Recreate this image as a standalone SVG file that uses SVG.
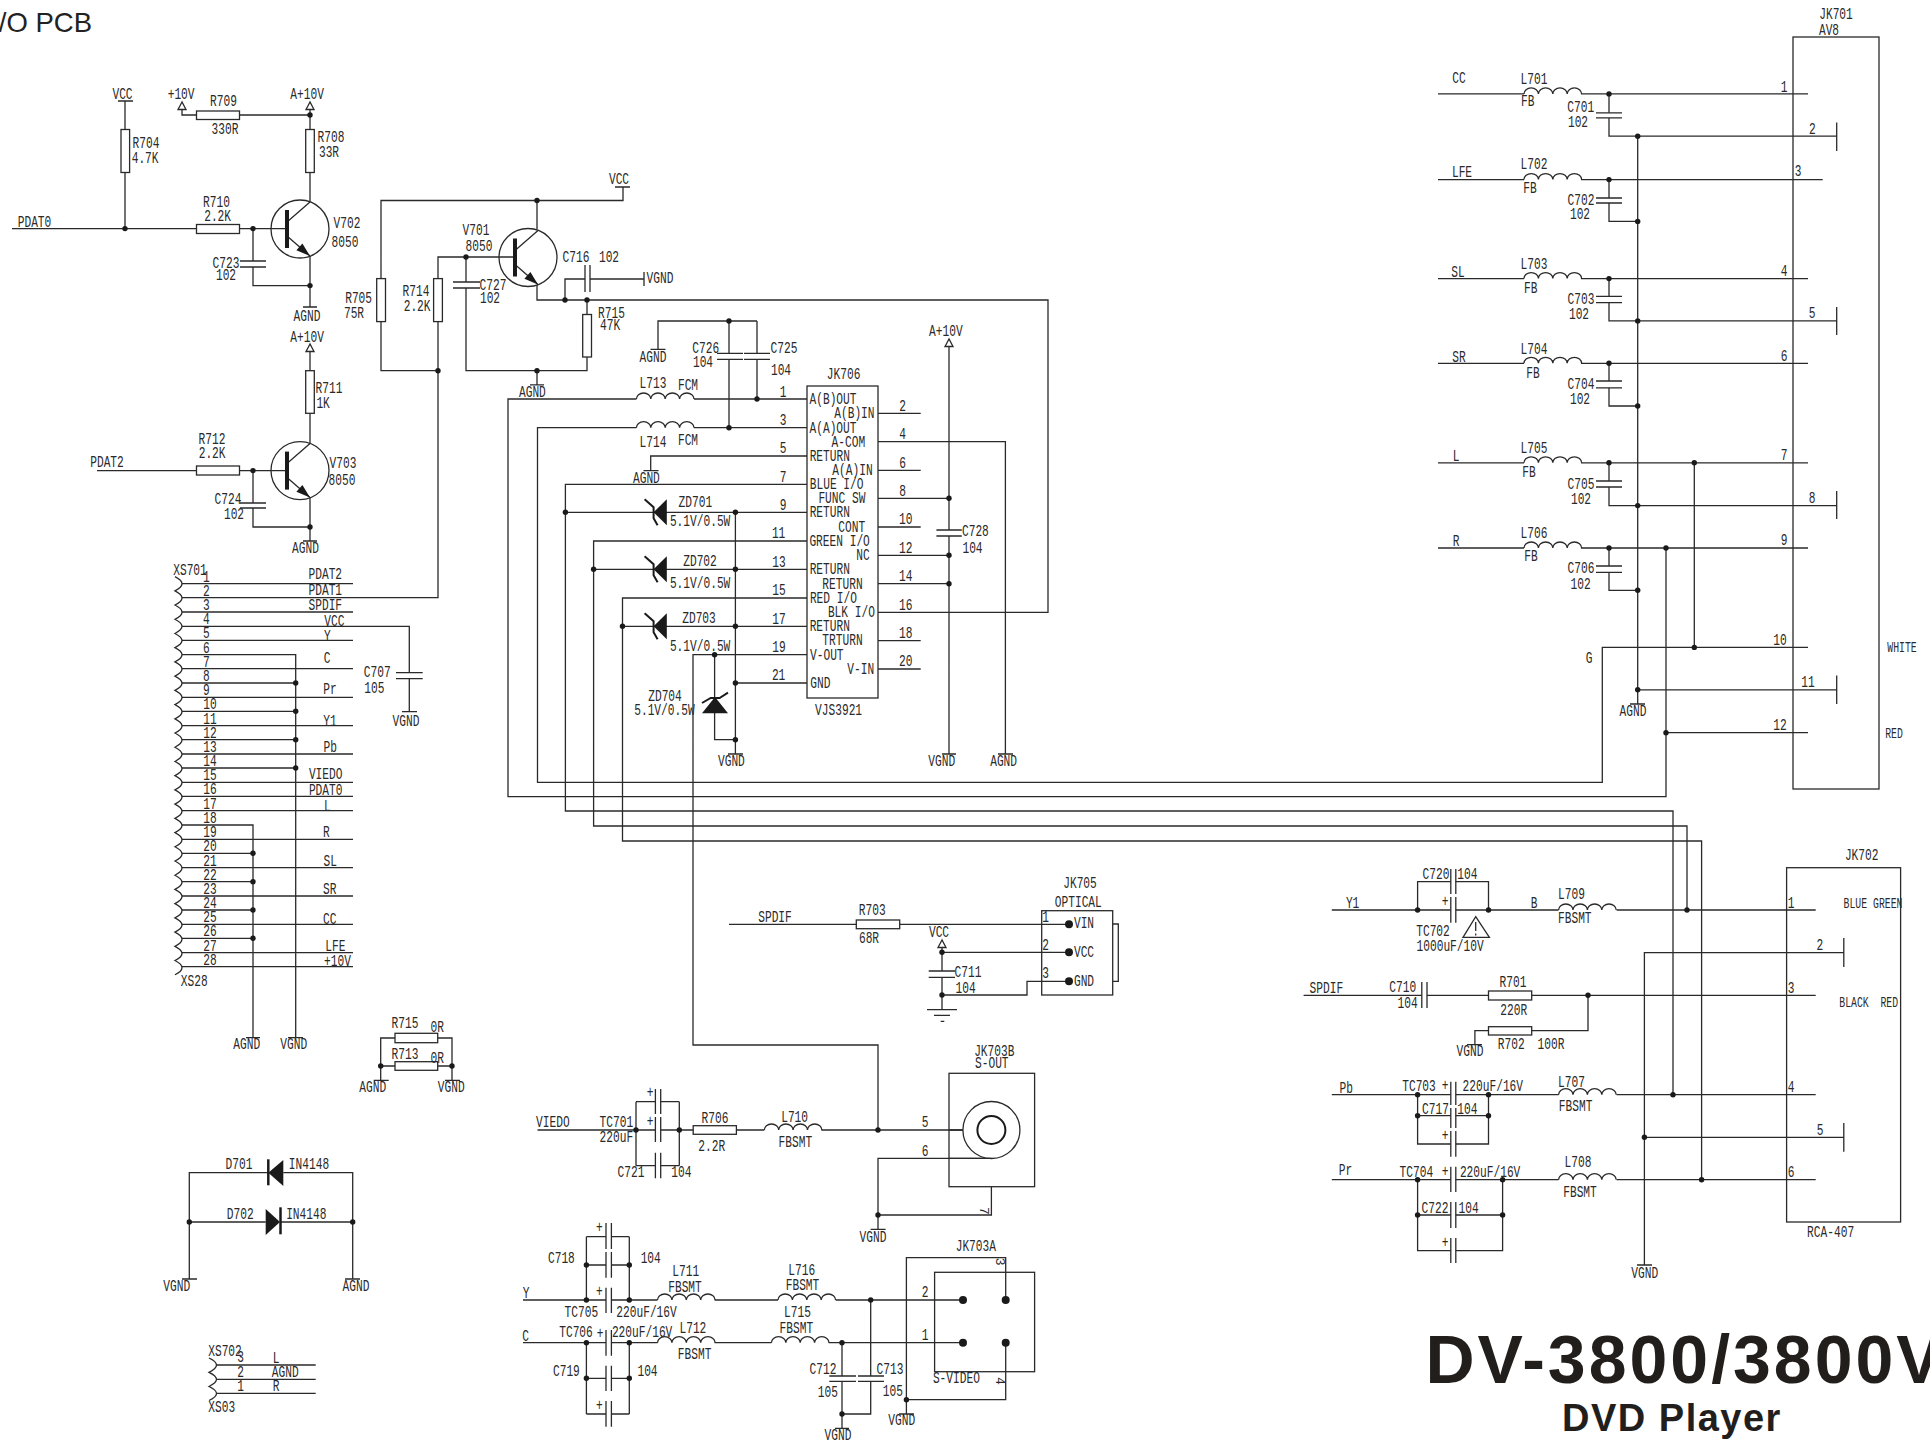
<svg xmlns="http://www.w3.org/2000/svg" xmlns:xlink="http://www.w3.org/1999/xlink" width="1930" height="1441" viewBox="0 0 1930 1441">
<style>
.w{fill:none;stroke:#2a2a2a;stroke-width:1.3}
.n{fill:#fff;stroke:#2a2a2a;stroke-width:1.3}
.b{fill:none;stroke:#2a2a2a;stroke-width:1.3}
.f{fill:#1a1a1a;stroke:none}
.t{font:16px "Liberation Mono",monospace;fill:#2a2a2a;text-anchor:middle;transform-box:fill-box;transform-origin:center;transform:scaleX(.7)}
.s{font-size:14px}
.v{font:13px "Liberation Mono",monospace;fill:#2a2a2a;text-anchor:middle}
.title{font:bold 68px "Liberation Sans",sans-serif;fill:#221e1c;letter-spacing:3px}
.sub{font:bold 38px "Liberation Sans",sans-serif;fill:#221e1c;letter-spacing:1.5px}
.pcb{font:27.5px "Liberation Sans",sans-serif;fill:#222;text-anchor:end}
</style>
<defs>
<circle id="d" r="2.7" fill="#1a1a1a"/>
<circle id="D" r="4" fill="#1a1a1a"/>
<path id="coil" class="w" d="M0 0a7.2 6 0 0 1 14.4 0a7.2 6 0 0 1 14.4 0a7.2 6 0 0 1 14.4 0a7.2 6 0 0 1 14.4 0"/>
<path id="tri" class="n" d="M0 0l-4 7.5h8z"/>
<g id="q">
<circle class="b" cx="13" r="29"/>
<path class="b" d="M0 -7L23 -27M0 7L23 27"/>
<path d="M0 -19V19" stroke="#1a1a1a" stroke-width="4"/>
<path class="f" d="M23 27L15.4 14.4L9.4 21.2z"/>
</g>
<g id="zd">
<path class="f" d="M13.2 -13V13L0 0z"/>
<path fill="none" stroke="#1a1a1a" stroke-width="2" d="M-9 -13L0 -5V6L4 13"/>
</g>
</defs>
<rect width="1930" height="1441" fill="#fff"/>

<g id="connectors">
<path class="w" d="M12 228.6H196.5M239.5 228.6H287M125 101V129.5M125 172.4V228.6M182 109V115H196.5M239.5 115H310M310 109V129.5M310 172.4V202M253 228.6V261M253 267V285.6H310M310 256V307M118 101h15M303 307h14"/>
<path class="w" d="M310 351.5V370.7M310 413.3V444M97 470.6H196.5M239.5 470.6H287M253 470.6V503M253 508V527H310M310 497.6V541M303 541h14"/>
<path class="w" d="M381 278.6V200.5H623V187M615 187h15M537 200.5V229.4M381 321.5V370.7H438M515 257H438V278.6M438 321.5V597.7H182M466 257V282M466 288V370.7H587V357M587 314.5V300M537 285V300H1048V612.3H878M565 300V279H585M590 279H644M644 272V286M537 370.7V384.8M530 384.8h14"/>
<path class="w" d="M757 321V353.3M757 359.3V399M658 349.3V321H757M729 321V353.3M729 359.3V427.7M650.5 349.3h15M694 399H807M636.4 399H508V796.7H1666V548M694 427.7H807M636.4 427.7H537.5V782.3H1602.3V647.4H1808"/>
<path class="w" d="M807 456H650.7V470.7M643.5 470.7h15M807 484.3H565.4V811H1673V1094.7M807 512.3H565.4M807 541H593.6V826H1687V910M807 569.3H593.6M807 598H622.5V841H1701.6V1179.7M807 626.3H622.5M807 654.7H693V1045H878V1130M807 683H735.4M735.4 512.3V754M728 754h15M714.6 654.7V739.7H735.4"/>
<path class="w" d="M878 413.3H920.7M878 441.7H1005.4V754M998 754h15M878 470.3H920.7M878 498.3H949M878 527H920.7M878 555.3H949M878 583.7H949M878 640.7H920.7M878 669H920.7M949 346.7V530M949 536V754M942 754h14"/>
<path class="w" d="M182 583.7H353M182 612H353M182 626.3H409.3V672.7M409.3 678.7V711.7M402 711.7h15M182 640.3H353M182 654.7H295.7V1037.7M288 1037.7h15M182 668.7H353M182 683H295.7M182 697.3H353M182 711.3H295.7M182 725.7H353M182 739.7H295.7M182 754H353M182 768H295.7M182 782.3H353M182 796.3H353M182 810.7H353M182 825H253V1037.7M246 1037.7h14M182 839.3H353M182 853.3H253M182 867.7H353M182 881.7H253M182 896H353M182 910H253M182 924.3H353M182 938.3H253M182 952.7H353M182 966.7H353"/>
<path class="w" d="M1438 93.9H1524M1581 93.9H1808M1609 93.9V112.8M1609 117.9V136.2H1836.7M1836.7 122.4V151M1637.7 136.2V704M1630 704h15"/>
<path class="w" d="M1438 179.6H1524M1581 179.6H1822.7M1609 179.6V198M1609 203V221.4H1637.7"/>
<path class="w" d="M1438 278.6H1524M1581 278.6H1808M1609 278.6V296.4M1609 302.6V320.9H1836.7M1836.7 307V335"/>
<path class="w" d="M1438 363.3H1524M1581 363.3H1808M1609 363.3V381M1609 387.8V406H1637.7"/>
<path class="w" d="M1438 462.8H1524M1581 462.8H1808M1609 462.8V481M1609 487V505.6H1836.7M1836.7 491V519M1694.3 462.8V647.4"/>
<path class="w" d="M1438 548H1524M1581 548H1808M1609 548V566M1609 572.4V590.3H1637.7M1637.7 689.8H1836.7M1836.7 675.5V704M1666 732.7H1808"/>
<path class="w" d="M1331.8 910H1450.8M1455.8 910H1558.6M1616.6 910H1815.7M1417.6 910V881.7H1450.8M1455.8 881.7H1488.5V910M1843.8 952.7H1644.4V1265M1637 1265h15M1644.4 1137.3H1843.8M1843.8 938V967M1843.8 1123V1151.7"/>
<path class="w" d="M1303.6 995.3H1421.8M1427 995.3H1488.5M1531.7 995.3H1815.7M1588 995.3V1030.7H1531.7M1488.5 1030.7H1474.9V1044.7M1467 1044.7h15"/>
<path class="w" d="M1331.8 1094.7H1450.8M1455.8 1094.7H1558.6M1616.6 1094.7H1815.7M1417.6 1094.7V1144H1450.8M1455.8 1144H1488.5V1094.7M1417.6 1115.7H1450.8M1455.8 1115.7H1488.5"/>
<path class="w" d="M1331.8 1179.7H1450.8M1455.8 1179.7H1558.6M1616.6 1179.7H1815.7M1417.6 1179.7V1250.7H1450.8M1455.8 1250.7H1502.6V1179.7M1417.6 1215H1450.8M1455.8 1215H1502.6"/>
<path class="w" d="M729 924.3H856.3M899.7 924.3H1069M942 947.3V971M942 977.3V1009.7M942 952.3H1069M942 995H1027V981.3H1069"/>
<path class="w" d="M537.5 1130H655.4M660.7 1130H693.2M736.4 1130H764.3M821.4 1130H963M636 1101.7H655.4M660.7 1101.7H679.3M636 1165.7H655.4M660.7 1165.7H679.3M636 1101.7V1165.7M679.3 1101.7V1165.7M991.4 1158.3H878V1229.3M870.6 1229.3h15M878 1215H991.4V1186.7"/>
<path class="w" d="M523 1300H606M611.4 1300H657.5M714.6 1300H778M835.7 1300H963M586.4 1236.7H606M611.4 1236.7H629.3M586.4 1265H606M611.4 1265H629.3M586.4 1236.7V1300M629.3 1236.7V1300"/>
<path class="w" d="M523 1342.7H606M611.4 1342.7H657.5M714.6 1342.7H771.4M828.6 1342.7H963M586.4 1378.3H606M611.4 1378.3H629.3M586.4 1414H606M611.4 1414H629.3M586.4 1342.7V1414M629.3 1342.7V1414"/>
<path class="w" d="M842 1342.7V1376M842 1381.3V1428.3M835 1428.3h14M842 1414H870.7V1381.3M870.7 1376V1300M1005.7 1300V1257.7H906.4V1414M899 1414h15M906.4 1399.7H1005.7V1342.7"/>
<path class="w" d="M380.7 1080.3V1038H395M437.7 1038H452V1080.3M380.7 1066H395M437.7 1066H452M373.7 1080.3h15M445 1080.3h15M189.3 1279V1172.7H268M283.3 1172.7H352.7V1279M189.3 1222H265.7M280 1222H352.7M182 1279h15M345 1279h15M216.7 1365H315.7M216.7 1379.3H315.7M216.7 1393.3H315.7"/>
<g>
<use href="#d" x="125" y="228.6"/><use href="#d" x="253" y="228.6"/><use href="#d" x="310" y="115"/><use href="#d" x="310" y="285.6"/><use href="#d" x="253" y="470.6"/><use href="#d" x="310" y="527"/>
<use href="#d" x="537" y="200.5"/><use href="#d" x="466" y="257"/><use href="#d" x="438" y="370.7"/><use href="#d" x="537" y="370.7"/><use href="#d" x="565" y="300"/><use href="#d" x="587" y="300"/>
<use href="#d" x="729" y="321"/><use href="#d" x="757" y="399"/><use href="#d" x="729" y="427.7"/><use href="#d" x="565.4" y="512.3"/><use href="#d" x="593.6" y="569.3"/><use href="#d" x="622.5" y="626.3"/>
<use href="#d" x="735.4" y="512.3"/><use href="#d" x="735.4" y="569.3"/><use href="#d" x="735.4" y="626.3"/><use href="#d" x="735.4" y="683"/><use href="#d" x="735.4" y="739.7"/><use href="#d" x="714.6" y="654.7"/>
<use href="#d" x="949" y="498.3"/><use href="#d" x="949" y="555.3"/><use href="#d" x="949" y="583.7"/>
<use href="#d" x="295.7" y="683"/><use href="#d" x="295.7" y="711.3"/><use href="#d" x="295.7" y="739.7"/><use href="#d" x="295.7" y="768"/><use href="#d" x="253" y="853.3"/><use href="#d" x="253" y="881.7"/><use href="#d" x="253" y="910"/><use href="#d" x="253" y="938.3"/>
<use href="#d" x="1609" y="93.9"/><use href="#d" x="1609" y="179.6"/><use href="#d" x="1609" y="278.6"/><use href="#d" x="1609" y="363.3"/><use href="#d" x="1609" y="462.8"/><use href="#d" x="1609" y="548"/>
<use href="#d" x="1637.7" y="136.2"/><use href="#d" x="1637.7" y="221.4"/><use href="#d" x="1637.7" y="320.9"/><use href="#d" x="1637.7" y="406"/><use href="#d" x="1637.7" y="505.6"/><use href="#d" x="1637.7" y="590.3"/><use href="#d" x="1637.7" y="689.8"/>
<use href="#d" x="1694.3" y="462.8"/><use href="#d" x="1694.3" y="647.4"/><use href="#d" x="1666" y="548"/><use href="#d" x="1666" y="732.7"/>
<use href="#d" x="1417.6" y="910"/><use href="#d" x="1488.5" y="910"/><use href="#d" x="1687" y="910"/><use href="#d" x="1588" y="995.3"/><use href="#d" x="1644.4" y="1137.3"/>
<use href="#d" x="1417.6" y="1094.7"/><use href="#d" x="1488.5" y="1094.7"/><use href="#d" x="1417.6" y="1115.7"/><use href="#d" x="1488.5" y="1115.7"/><use href="#d" x="1673" y="1094.7"/>
<use href="#d" x="1417.6" y="1179.7"/><use href="#d" x="1502.6" y="1179.7"/><use href="#d" x="1417.6" y="1215"/><use href="#d" x="1502.6" y="1215"/><use href="#d" x="1701.6" y="1179.7"/>
<use href="#d" x="942" y="952.3"/><use href="#d" x="942" y="995"/><use href="#D" x="1069" y="924.3"/><use href="#D" x="1069" y="952.3"/><use href="#D" x="1069" y="981.3"/>
<use href="#d" x="636" y="1130"/><use href="#d" x="679.3" y="1130"/><use href="#d" x="878" y="1130"/><use href="#d" x="878" y="1215"/>
<use href="#d" x="586.4" y="1265"/><use href="#d" x="629.3" y="1265"/><use href="#d" x="586.4" y="1300"/><use href="#d" x="629.3" y="1300"/><use href="#d" x="586.4" y="1342.7"/><use href="#d" x="629.3" y="1342.7"/><use href="#d" x="586.4" y="1378.3"/><use href="#d" x="629.3" y="1378.3"/>
<use href="#d" x="870.7" y="1300"/><use href="#d" x="842" y="1342.7"/><use href="#d" x="842" y="1414"/><use href="#d" x="906.4" y="1399.7"/>
<use href="#d" x="380.7" y="1066"/><use href="#d" x="452" y="1066"/><use href="#d" x="189.3" y="1222"/><use href="#d" x="352.7" y="1222"/>
</g>
</g>

<g id="title"><text class="pcb" x="92" y="32">/O PCB</text>
<text class="title" x="1425.5" y="1383">DV-3800/3800V</text>
<text class="sub" x="1562" y="1431">DVD Player</text></g>

<g id="R704"><rect class="n" x="121" y="129.5" width="8.6" height="43"/><text class="t" x="122.5" y="99">VCC</text><text class="t" x="146" y="148">R704</text><text class="t" x="145" y="163.5">4.7K</text></g>
<g id="R709"><rect class="n" x="196.5" y="111" width="43" height="8.5"/><use href="#tri" x="182" y="102"/><text class="t" x="181" y="99">+10V</text><text class="t" x="223.5" y="106.5">R709</text><text class="t" x="225" y="134">330R</text></g>
<g id="R708"><rect class="n" x="305.7" y="129.5" width="8.6" height="43"/><use href="#tri" x="310" y="102"/><text class="t" x="307" y="99">A+10V</text><text class="t" x="331" y="142.4">R708</text><text class="t" x="329" y="157">33R</text></g>
<g id="R710"><rect class="n" x="196.5" y="224.5" width="43" height="9"/><text class="t" x="34.5" y="226.8">PDAT0</text><text class="t" x="216.5" y="207">R710</text><text class="t" x="217.5" y="221">2.2K</text></g>
<g id="V702"><use href="#q" x="287" y="229"/><text class="t" x="347" y="228">V702</text><text class="t" x="345" y="247">8050</text></g>
<g id="C723"><path class="b" d="M240 261h26M240 267h26"/><text class="t" x="226" y="268">C723</text><text class="t" x="226" y="280">102</text><text class="t" x="307" y="321">AGND</text></g>
<g id="R711"><rect class="n" x="305.7" y="370.7" width="8.6" height="42.6"/><use href="#tri" x="310" y="344"/><text class="t" x="307" y="342">A+10V</text><text class="t" x="329" y="393">R711</text><text class="t" x="323" y="408">1K</text></g>
<g id="R712"><rect class="n" x="196.5" y="466" width="43" height="9"/><text class="t" x="107" y="467">PDAT2</text><text class="t" x="212" y="444">R712</text><text class="t" x="212" y="457.6">2.2K</text></g>
<g id="V703"><use href="#q" x="287" y="470.6"/><text class="t" x="343" y="468">V703</text><text class="t" x="342" y="484.6">8050</text></g>
<g id="C724"><path class="b" d="M240 503h26M240 508h26"/><text class="t" x="228" y="504">C724</text><text class="t" x="234" y="519.4">102</text><text class="t" x="305.5" y="553.5">AGND</text></g>

<g id="R705"><rect class="n" x="376.7" y="278.6" width="8.8" height="43"/><text class="t" x="358.6" y="303">R705</text><text class="t" x="354" y="318">75R</text></g>
<g id="R714"><rect class="n" x="433.6" y="278.6" width="8.8" height="43"/><text class="t" x="416" y="296">R714</text><text class="t" x="417" y="311.5">2.2K</text></g>
<g id="V701"><use href="#q" x="515" y="257.5"/><text class="t" x="476" y="235">V701</text><text class="t" x="479" y="251">8050</text><text class="t" x="619" y="184">VCC</text></g>
<g id="C727"><path class="b" d="M453 282h27M453 288h27"/><text class="t" x="493" y="289.7">C727</text><text class="t" x="490" y="303.4">102</text><text class="t" x="532.4" y="397">AGND</text></g>
<g id="C716"><path class="b" d="M585 265V292M590 265V292"/><text class="t" x="576" y="262">C716</text><text class="t" x="609" y="262">102</text><text class="t" x="660" y="283">VGND</text></g>
<g id="R715a"><rect class="n" x="582.7" y="314.5" width="8.8" height="42.5"/><text class="t" x="611.5" y="318">R715</text><text class="t" x="610" y="330">47K</text></g>

<g id="C725-C726"><path class="b" d="M717 353.3h26M717 359.3h26M744 353.3h26M744 359.3h26"/><text class="t" x="653" y="362">AGND</text><text class="t" x="705.7" y="352.7">C726</text><text class="t" x="703" y="367">104</text><text class="t" x="784" y="353">C725</text><text class="t" x="781" y="375">104</text></g>
<g id="L713"><use href="#coil" x="636.4" y="399"/><text class="t" x="653" y="388">L713</text><text class="t" x="688" y="390">FCM</text></g>
<g id="L714"><use href="#coil" x="636.4" y="427.7"/><text class="t" x="653" y="446.7">L714</text><text class="t" x="688" y="445">FCM</text></g>
<g id="JK706"><rect class="n" x="807" y="386" width="71" height="312"/>
<text class="t" x="843.6" y="379">JK706</text><text class="t" x="838.6" y="715">VJS3921</text>
<text class="t" x="833" y="404">A(B)OUT</text><text class="t" x="833" y="432.7">A(A)OUT</text><text class="t" x="829.8" y="461">RETURN</text><text class="t" x="836.6" y="489">BLUE I/O</text><text class="t" x="829.8" y="517">RETURN</text><text class="t" x="839.6" y="546">GREEN I/O</text><text class="t" x="829.8" y="574.3">RETURN</text><text class="t" x="833.4" y="603">RED I/O</text><text class="t" x="829.8" y="631">RETURN</text><text class="t" x="826.8" y="659.7">V-OUT</text><text class="t" x="820.4" y="688">GND</text>
<text class="t" x="854.4" y="418.3">A(B)IN</text><text class="t" x="848.4" y="446.7">A-COM</text><text class="t" x="852.5" y="475.3">A(A)IN</text><text class="t" x="841.8" y="503.3">FUNC SW</text><text class="t" x="851.8" y="532">CONT</text><text class="t" x="862.9" y="560">NC</text><text class="t" x="842.5" y="588.7">RETURN</text><text class="t" x="851.4" y="617">BLK I/O</text><text class="t" x="842.5" y="645.3">TRTURN</text><text class="t" x="860.7" y="673.7">V-IN</text>
<text class="t" x="783" y="396.7">1</text><text class="t" x="783" y="425">3</text><text class="t" x="783" y="453.5">5</text><text class="t" x="783" y="481.8">7</text><text class="t" x="783" y="509.8">9</text><text class="t" x="778.6" y="538.5">11</text><text class="t" x="779" y="566.8">13</text><text class="t" x="779" y="595.5">15</text><text class="t" x="779" y="623.8">17</text><text class="t" x="779" y="652.2">19</text><text class="t" x="778.6" y="680.5">21</text>
<text class="t" x="902.5" y="410.8">2</text><text class="t" x="902.5" y="439.2">4</text><text class="t" x="902.5" y="467.8">6</text><text class="t" x="902.5" y="495.8">8</text><text class="t" x="905.7" y="524.5">10</text><text class="t" x="905.7" y="552.8">12</text><text class="t" x="905.7" y="581.2">14</text><text class="t" x="905.7" y="609.8">16</text><text class="t" x="905.7" y="638.2">18</text><text class="t" x="905.7" y="666.5">20</text>
</g>
<g id="AGND5"><text class="t" x="646.4" y="482.7">AGND</text></g>
<g id="ZD701"><use href="#zd" x="653.6" y="512.3"/><text class="t" x="695.4" y="506.7">ZD701</text><text class="t" x="700" y="526">5.1V/0.5W</text></g>
<g id="ZD702"><use href="#zd" x="653.6" y="569.3"/><text class="t" x="700" y="566">ZD702</text><text class="t" x="700" y="588.3">5.1V/0.5W</text></g>
<g id="ZD703"><use href="#zd" x="653.6" y="626.3"/><text class="t" x="699" y="622.7">ZD703</text><text class="t" x="700" y="651">5.1V/0.5W</text></g>
<g id="ZD704"><path class="f" d="M715 697L728 713.3H702z"/><path fill="none" stroke="#1a1a1a" stroke-width="2" d="M702 703L710.7 698H719.6L728 692.7"/><text class="t" x="665" y="700.7">ZD704</text><text class="t" x="664.3" y="715">5.1V/0.5W</text><text class="t" x="731.4" y="766">VGND</text></g>
<g id="C728"><use href="#tri" x="949" y="339"/><path class="b" d="M936.4 530h25.4M936.4 536h25.4"/><text class="t" x="945.7" y="336">A+10V</text><text class="t" x="975.4" y="536">C728</text><text class="t" x="972.5" y="552.7">104</text><text class="t" x="941.8" y="766">VGND</text><text class="t" x="1003.6" y="766">AGND</text></g>

<g id="XS701"><path class="b" d="M175 576.6q14 7.1 0 14.22q14 7.1 0 14.22q14 7.1 0 14.22q14 7.1 0 14.22q14 7.1 0 14.22q14 7.1 0 14.22q14 7.1 0 14.22q14 7.1 0 14.22q14 7.1 0 14.22q14 7.1 0 14.22q14 7.1 0 14.22q14 7.1 0 14.22q14 7.1 0 14.22q14 7.1 0 14.22q14 7.1 0 14.22q14 7.1 0 14.22q14 7.1 0 14.22q14 7.1 0 14.22q14 7.1 0 14.22q14 7.1 0 14.22q14 7.1 0 14.22q14 7.1 0 14.22q14 7.1 0 14.22q14 7.1 0 14.22q14 7.1 0 14.22q14 7.1 0 14.22q14 7.1 0 14.22q14 7.1 0 14.22"/>
<text class="t" x="190" y="575">XS701</text><text class="t" x="194.3" y="986">XS28</text>
<text class="t" x="206.3" y="581.7">1</text><text class="t" x="206.3" y="595.7">2</text><text class="t" x="206.3" y="610">3</text><text class="t" x="206.3" y="624.3">4</text><text class="t" x="206.3" y="638.3">5</text><text class="t" x="206.3" y="652.7">6</text><text class="t" x="206.3" y="666.7">7</text><text class="t" x="206.3" y="681">8</text><text class="t" x="206.3" y="695.3">9</text><text class="t" x="210" y="709.3">10</text><text class="t" x="210" y="723.7">11</text><text class="t" x="210" y="737.7">12</text><text class="t" x="210" y="752">13</text><text class="t" x="210" y="766">14</text><text class="t" x="210" y="780.3">15</text><text class="t" x="210" y="794.3">16</text><text class="t" x="210" y="808.7">17</text><text class="t" x="210" y="823">18</text><text class="t" x="210" y="837.3">19</text><text class="t" x="210" y="851.3">20</text><text class="t" x="210" y="865.7">21</text><text class="t" x="210" y="879.7">22</text><text class="t" x="210" y="894">23</text><text class="t" x="210" y="908">24</text><text class="t" x="210" y="922.3">25</text><text class="t" x="210" y="936.3">26</text><text class="t" x="210" y="950.7">27</text><text class="t" x="210" y="964.7">28</text>
<text class="t" x="325.3" y="579.3">PDAT2</text><text class="t" x="325.3" y="595">PDAT1</text><text class="t" x="325.3" y="610">SPDIF</text><text class="t" x="334.3" y="626">VCC</text><text class="t" x="327.3" y="641">Y</text><text class="t" x="327" y="662.7">C</text><text class="t" x="330" y="694">Pr</text><text class="t" x="330" y="725.7">Y1</text><text class="t" x="330.3" y="752">Pb</text><text class="t" x="325.7" y="779">VIEDO</text><text class="t" x="325.7" y="795">PDAT0</text><text class="t" x="327.3" y="810.7">L</text><text class="t" x="326.3" y="837">R</text><text class="t" x="330.3" y="865.7">SL</text><text class="t" x="329.7" y="893.7">SR</text><text class="t" x="329.7" y="924.3">CC</text><text class="t" x="335.3" y="950.7">LFE</text><text class="t" x="337.3" y="966">+10V</text>
<text class="t" x="246.7" y="1049.3">AGND</text><text class="t" x="293.7" y="1049.3">VGND</text></g>
<g id="C707"><path class="b" d="M396 672.7h26.7M396 678.7h26.7"/><text class="t" x="377.3" y="677.3">C707</text><text class="t" x="374.3" y="692.7">105</text><text class="t" x="406" y="725.7">VGND</text></g>

<g id="R715-R713"><rect class="n" x="395" y="1033.3" width="42.7" height="9.4"/><rect class="n" x="395" y="1061.7" width="42.7" height="8.6"/><text class="t" x="405" y="1028.3">R715</text><text class="t" x="437.3" y="1031.7">0R</text><text class="t" x="405" y="1059.3">R713</text><text class="t" x="437.3" y="1062.7">0R</text><text class="t" x="372.7" y="1092.3">AGND</text><text class="t" x="451.3" y="1092.3">VGND</text></g>
<g id="D701"><path class="f" d="M268.3 1172.7L283.3 1160V1186z"/><path d="M268.3 1159.3V1185.3" stroke="#1a1a1a" stroke-width="2.5"/><text class="t" x="239" y="1169.3">D701</text><text class="t" x="309" y="1169">IN4148</text></g>
<g id="D702"><path class="f" d="M265.7 1209V1235L280 1222z"/><path d="M280.5 1207.3V1234.3" stroke="#1a1a1a" stroke-width="2.5"/><text class="t" x="240.3" y="1219">D702</text><text class="t" x="306.3" y="1218.7">IN4148</text><text class="t" x="176.7" y="1291">VGND</text><text class="t" x="356" y="1291">AGND</text></g>
<g id="XS702"><path class="b" d="M209 1358q15 7 0 14.3q15 7 0 14.2q15 7 0 14"/><text class="t" x="225" y="1355.7">XS702</text><text class="t" x="221.7" y="1412.3">XS03</text><text class="t" x="240.7" y="1362.3">3</text><text class="t" x="240.7" y="1376.7">2</text><text class="t" x="240.7" y="1390.7">1</text><text class="t" x="276" y="1362.7">L</text><text class="t" x="285.3" y="1376.7">AGND</text><text class="t" x="276" y="1390.7">R</text></g>

<g id="JK701"><rect class="b" x="1793" y="37" width="86" height="752"/><text class="t" x="1836" y="19">JK701</text><text class="t" x="1829" y="34.7">AV8</text>
<text class="t" x="1784" y="92">1</text><text class="t" x="1812.3" y="134">2</text><text class="t" x="1798" y="176.5">3</text><text class="t" x="1784" y="276">4</text><text class="t" x="1812" y="318">5</text><text class="t" x="1784" y="361">6</text><text class="t" x="1784" y="459.7">7</text><text class="t" x="1812" y="503">8</text><text class="t" x="1784" y="545">9</text><text class="t" x="1780" y="645">10</text><text class="t" x="1808" y="687">11</text><text class="t" x="1780" y="730">12</text>
<text class="t s" x="1902" y="652.5">WHITE</text><text class="t s" x="1894" y="737.8">RED</text><text class="t" x="1589" y="662.8">G</text><text class="t" x="1633" y="716">AGND</text></g>
<g id="L701"><use href="#coil" x="1524" y="93.9"/><text class="t" x="1459" y="83">CC</text><text class="t" x="1534" y="84">L701</text><text class="t" x="1527.7" y="106">FB</text></g>
<g id="C701"><path class="b" d="M1596 112.8h26M1596 117.9h26"/><text class="t" x="1580.7" y="112">C701</text><text class="t" x="1578" y="127.5">102</text></g>
<g id="L702"><use href="#coil" x="1524" y="179.6"/><text class="t" x="1462" y="177">LFE</text><text class="t" x="1534" y="169.4">L702</text><text class="t" x="1530" y="193">FB</text></g>
<g id="C702"><path class="b" d="M1596 198h26M1596 203h26"/><text class="t" x="1581" y="204.6">C702</text><text class="t" x="1580" y="219.4">102</text></g>
<g id="L703"><use href="#coil" x="1524" y="278.6"/><text class="t" x="1458" y="277">SL</text><text class="t" x="1534" y="269">L703</text><text class="t" x="1530.7" y="293.4">FB</text></g>
<g id="C703"><path class="b" d="M1596 296.4h26M1596 302.6h26"/><text class="t" x="1581" y="304">C703</text><text class="t" x="1579" y="319">102</text></g>
<g id="L704"><use href="#coil" x="1524" y="363.3"/><text class="t" x="1459" y="361.7">SR</text><text class="t" x="1534" y="353.6">L704</text><text class="t" x="1533" y="378">FB</text></g>
<g id="C704"><path class="b" d="M1596 381h26M1596 387.8h26"/><text class="t" x="1581" y="389">C704</text><text class="t" x="1580" y="404">102</text></g>
<g id="L705"><use href="#coil" x="1524" y="462.8"/><text class="t" x="1456" y="461">L</text><text class="t" x="1534" y="453">L705</text><text class="t" x="1529" y="477">FB</text></g>
<g id="C705"><path class="b" d="M1596 481h26M1596 487h26"/><text class="t" x="1581" y="488.8">C705</text><text class="t" x="1581" y="503.6">102</text></g>
<g id="L706"><use href="#coil" x="1524" y="548"/><text class="t" x="1456" y="546">R</text><text class="t" x="1534" y="537.8">L706</text><text class="t" x="1531" y="561">FB</text></g>
<g id="C706"><path class="b" d="M1596 566h26M1596 572.4h26"/><text class="t" x="1581" y="573.5">C706</text><text class="t" x="1580.7" y="589">102</text></g>

<g id="JK702"><rect class="b" x="1786.6" y="867.7" width="114" height="354.3"/><text class="t" x="1861.7" y="860">JK702</text><text class="t" x="1830.6" y="1237">RCA-407</text><text class="t s" x="1873" y="907.7">BLUE GREEN</text><text class="t s" x="1868.7" y="1006.7">BLACK&#160; RED</text>
<text class="t" x="1791" y="907.7">1</text><text class="t" x="1819.8" y="950">2</text><text class="t" x="1791" y="992.7">3</text><text class="t" x="1791" y="1091.7">4</text><text class="t" x="1820" y="1135">5</text><text class="t" x="1791" y="1176.7">6</text><text class="t" x="1644.8" y="1278">VGND</text></g>
<g id="TC702"><path class="b" d="M1450.8 897V922.7M1455.8 897V922.7M1450.8 869V894M1455.8 869V894"/><path class="b" d="M1475.7 916.7L1489.4 937.3H1463zM1475.7 922V931M1475.7 933.5V935.5"/><text class="t" x="1352.6" y="907.7">Y1</text><text class="t" x="1445" y="906">+</text><text class="t" x="1436" y="879">C720</text><text class="t" x="1467.4" y="879">104</text><text class="t" x="1433" y="935.7">TC702</text><text class="t" x="1450" y="951">1000uF/10V</text></g>
<g id="L709"><use href="#coil" x="1558.6" y="910"/><text class="t" x="1534" y="907.7">B</text><text class="t" x="1571.5" y="899">L709</text><text class="t" x="1574.8" y="923.3">FBSMT</text></g>
<g id="C710"><path class="b" d="M1421.8 982V1008M1427 982V1008"/><text class="t" x="1326.4" y="993">SPDIF</text><text class="t" x="1402.7" y="992.3">C710</text><text class="t" x="1407.7" y="1008">104</text></g>
<g id="R701"><rect class="n" x="1488.5" y="991" width="43.2" height="9"/><text class="t" x="1513" y="986.7">R701</text><text class="t" x="1513.8" y="1014.7">220R</text></g>
<g id="R702"><rect class="n" x="1488.5" y="1026.7" width="43.2" height="8.3"/><text class="t" x="1470" y="1056">VGND</text><text class="t" x="1511.3" y="1048.7">R702</text><text class="t" x="1551" y="1048.7">100R</text></g>
<g id="TC703"><path class="b" d="M1450.8 1081.7V1105M1455.8 1081.7V1105M1450.8 1108V1128M1455.8 1108V1128M1450.8 1131V1156.7M1455.8 1131V1156.7"/><text class="t" x="1346.3" y="1093">Pb</text><text class="t" x="1419" y="1090.7">TC703</text><text class="t" x="1445" y="1090">+</text><text class="t" x="1492.7" y="1090.7">220uF/16V</text><text class="t" x="1435.5" y="1114">C717</text><text class="t" x="1467.4" y="1114">104</text><text class="t" x="1445" y="1140">+</text></g>
<g id="L707"><use href="#coil" x="1558.6" y="1094.7"/><text class="t" x="1571.5" y="1086.7">L707</text><text class="t" x="1575.6" y="1110.7">FBSMT</text></g>
<g id="TC704"><path class="b" d="M1450.8 1166.7V1192M1455.8 1166.7V1192M1450.8 1202V1228M1455.8 1202V1228M1450.8 1238V1263M1455.8 1238V1263"/><text class="t" x="1345.5" y="1175">Pr</text><text class="t" x="1416.4" y="1177">TC704</text><text class="t" x="1445" y="1175.7">+</text><text class="t" x="1490" y="1177">220uF/16V</text><text class="t" x="1435" y="1213">C722</text><text class="t" x="1468.6" y="1213">104</text><text class="t" x="1445" y="1247">+</text></g>
<g id="L708"><use href="#coil" x="1558.6" y="1179.7"/><text class="t" x="1578" y="1167.3">L708</text><text class="t" x="1580" y="1197">FBSMT</text></g>

<g id="R703"><rect class="n" x="856.3" y="920" width="43.4" height="8.7"/><text class="t" x="775" y="921.7">SPDIF</text><text class="t" x="872.3" y="915">R703</text><text class="t" x="869" y="943.3">68R</text></g>
<g id="C711"><use href="#tri" x="942" y="940"/><path class="b" d="M928.7 971H955M928.7 977.3H955M927 1009.7h30M934 1015.3h16M940.7 1021.3h3.6"/><text class="t" x="939" y="936.7">VCC</text><text class="t" x="968" y="976.7">C711</text><text class="t" x="965.7" y="992.7">104</text></g>
<g id="JK705"><rect class="b" x="1041.7" y="910.7" width="71" height="84.3"/><path class="b" d="M1112.7 924H1118.3V981.3H1112.7"/><text class="t" x="1080" y="888.3">JK705</text><text class="t" x="1078.3" y="907.3">OPTICAL</text><text class="t" x="1045.7" y="921.7">1</text><text class="t" x="1045.7" y="950">2</text><text class="t" x="1045.7" y="978.3">3</text><text class="t" x="1084" y="928.3">VIN</text><text class="t" x="1084" y="957.3">VCC</text><text class="t" x="1084" y="985.7">GND</text></g>

<g id="TC701"><path class="b" d="M655.4 1089V1114M660.7 1089V1114M655.4 1117V1142M660.7 1117V1142M655.4 1152.7V1178.3M660.7 1152.7V1178.3"/><text class="t" x="552.9" y="1126.7">VIEDO</text><text class="t" x="616.4" y="1126.7">TC701</text><text class="t" x="616.4" y="1142.3">220uF</text><text class="t" x="650" y="1097.3">+</text><text class="t" x="650" y="1125.7">+</text><text class="t" x="631" y="1177.3">C721</text><text class="t" x="681.4" y="1177.3">104</text></g>
<g id="R706"><rect class="n" x="693.2" y="1125.7" width="43.2" height="8.6"/><text class="t" x="715" y="1122.7">R706</text><text class="t" x="711.8" y="1151">2.2R</text></g>
<g id="L710"><use href="#coil" x="764.3" y="1130"/><text class="t" x="794.6" y="1121.7">L710</text><text class="t" x="795.4" y="1147.3">FBSMT</text></g>
<g id="JK703B"><rect class="b" x="949" y="1073.3" width="85.6" height="113.4"/><circle class="n" cx="991.4" cy="1130" r="28.5"/><circle cx="991.4" cy="1130" r="14" fill="none" stroke="#1a1a1a" stroke-width="2"/><path class="w" d="M949 1130H963M949 1158.3H991.4"/><text class="t" x="994.3" y="1056">JK703B</text><text class="t" x="991.8" y="1068">S-OUT</text><text class="t" x="925" y="1126.7">5</text><text class="t" x="925" y="1155.7">6</text><text class="v" transform="rotate(90 979.5 1211)" x="979.5" y="1211">7</text><text class="t" x="873" y="1241.7">VGND</text></g>

<g id="C718-TC705"><path class="b" d="M606 1223V1249M611.4 1223V1249M606 1252V1277.7M611.4 1252V1277.7M606 1287.7V1313M611.4 1287.7V1313"/><text class="t" x="599.3" y="1231.7">+</text><text class="t" x="599.3" y="1296">+</text><text class="t" x="561.4" y="1262.7">C718</text><text class="t" x="650.7" y="1262.7">104</text><text class="t" x="526" y="1297.7">Y</text><text class="t" x="581.4" y="1317.3">TC705</text><text class="t" x="646.4" y="1317.3">220uF/16V</text></g>
<g id="C719-TC706"><path class="b" d="M606 1330V1355.7M611.4 1330V1355.7M606 1365.7V1391M611.4 1365.7V1391M606 1401V1426.7M611.4 1401V1426.7"/><text class="t" x="600" y="1338">+</text><text class="t" x="599.3" y="1410">+</text><text class="t" x="525.7" y="1341">C</text><text class="t" x="576" y="1336.7">TC706</text><text class="t" x="642" y="1336.7">220uF/16V</text><text class="t" x="566.4" y="1376">C719</text><text class="t" x="647.5" y="1376">104</text></g>
<g id="L711"><use href="#coil" x="657.5" y="1300"/><text class="t" x="685.7" y="1276">L711</text><text class="t" x="685" y="1291.7">FBSMT</text></g>
<g id="L712"><use href="#coil" x="657.5" y="1342.7"/><text class="t" x="692.9" y="1333.3">L712</text><text class="t" x="694.6" y="1359">FBSMT</text></g>
<g id="L716"><use href="#coil" x="778" y="1300"/><text class="t" x="801.8" y="1275">L716</text><text class="t" x="802.5" y="1290">FBSMT</text></g>
<g id="L715"><use href="#coil" x="771.4" y="1342.7"/><text class="t" x="797.5" y="1316.7">L715</text><text class="t" x="796.4" y="1332.7">FBSMT</text></g>
<g id="C712-C713"><path class="b" d="M829.3 1376H856M829.3 1381.3H856M858 1376H884M858 1381.3H884"/><text class="t" x="823" y="1374.3">C712</text><text class="t" x="827.9" y="1397.3">105</text><text class="t" x="890" y="1374">C713</text><text class="t" x="892.9" y="1395.7">105</text><text class="t" x="838" y="1440">VGND</text></g>
<g id="JK703A"><rect class="b" x="934.6" y="1272.3" width="100" height="99.4"/><use href="#D" x="963" y="1300"/><use href="#D" x="1005.7" y="1300"/><use href="#D" x="963" y="1342.7"/><use href="#D" x="1005.7" y="1342.7"/><text class="t" x="975.7" y="1250.7">JK703A</text><text class="t" x="925" y="1297.3">2</text><text class="t" x="925" y="1340">1</text><text class="t" x="956.4" y="1383.3">S-VIDEO</text><text class="v" transform="rotate(90 995.5 1261.7)" x="995.5" y="1261.7">3</text><text class="v" transform="rotate(90 995.5 1381)" x="995.5" y="1381">4</text><text class="t" x="901.8" y="1425">VGND</text></g>
</svg>
